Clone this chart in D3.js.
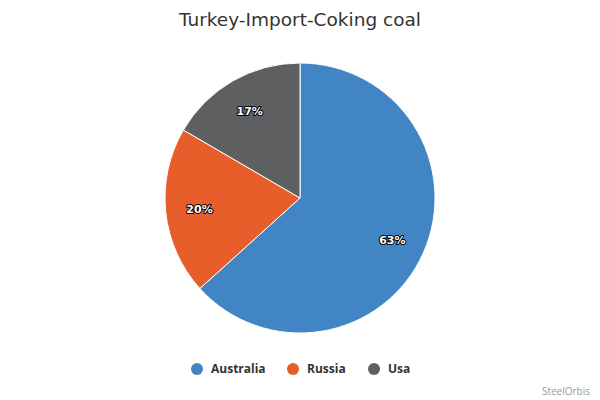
<!DOCTYPE html>
<html>
<head>
<meta charset="utf-8">
<script src="https://cdn.jsdelivr.net/npm/d3@7"></script>
<style>
  body { margin: 0; background: #fff; }
  svg { font-family: "DejaVu Sans", Verdana, sans-serif; }
</style>
</head>
<body>
<div id="chart"></div>
<script>
const title = 'Turkey-Import-Coking coal';
const countries = ['Australia', 'Russia', 'Usa'];
const shares = [63.3, 20.1, 16.6];
const colors = ['#4285c4', '#e85e2b', '#5e5f61'];

const width = 600, height = 400;
const cx = 300, cy = 198, radius = 135;

const svg = d3.select('#chart').append('svg')
  .attr('width', width).attr('height', height);

svg.append('text')
  .attr('x', width / 2).attr('y', 26)
  .attr('text-anchor', 'middle')
  .style('font-size', '18.5px').style('fill', '#333')
  .text(title);

const data = countries.map((c, i) => ({ name: c, value: shares[i], color: colors[i] }));
const pie = d3.pie().value(d => d.value).sort(null);
const arc = d3.arc().innerRadius(0).outerRadius(radius);
const labelArc = d3.arc().innerRadius(101).outerRadius(101);

const g = svg.append('g').attr('transform', `translate(${cx},${cy})`);
const arcs = pie(data);

g.selectAll('path').data(arcs).enter().append('path')
  .attr('d', arc)
  .attr('fill', d => d.data.color)
  .attr('stroke', '#fff').attr('stroke-width', 1)
  .attr('stroke-linejoin', 'round');

g.selectAll('.label').data(arcs).enter().append('text')
  .attr('transform', d => `translate(${labelArc.centroid(d)})`)
  .attr('text-anchor', 'middle').attr('dy', '0.45em')
  .style('font-size', '11px').style('font-weight', 'bold')
  .style('fill', '#fff').style('stroke', '#000').style('stroke-width', 2)
  .style('stroke-linejoin', 'round').style('paint-order', 'stroke')
  .text(d => `${Math.round(d.data.value)}%`);

const legendX = [197, 293, 374];
const legend = svg.selectAll('.legend').data(data).enter().append('g')
  .attr('transform', (d, i) => `translate(${legendX[i]},369)`);
legend.append('circle').attr('r', 6).attr('fill', d => d.color);
legend.append('text')
  .attr('x', 14).attr('dy', '0.35em')
  .style('font-family', '"Open Sans", sans-serif')
  .style('font-size', '12px').style('font-weight', 'bold').style('fill', '#333')
  .text(d => d.name);

svg.append('text')
  .attr('x', 590).attr('y', 395)
  .attr('text-anchor', 'end')
  .style('font-family', '"Open Sans", sans-serif')
  .style('font-size', '10px').style('fill', '#999')
  .text('SteelOrbis');
</script>
</body>
</html>
